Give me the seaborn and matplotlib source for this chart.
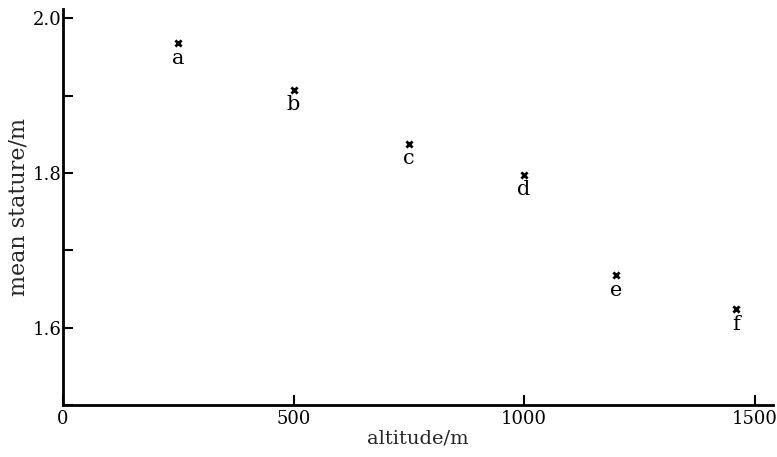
import matplotlib
matplotlib.use("Agg")
import matplotlib.pyplot as plt
import pandas as pd
import seaborn as sns
from matplotlib.ticker import MultipleLocator

# data
altitude = [250, 500, 750, 1000, 1200, 1460]
stature = [1.968, 1.908, 1.838, 1.798, 1.668, 1.624]
point_labels = ["a", "b", "c", "d", "e", "f"]

df = pd.DataFrame({"altitude": altitude, "stature": stature, "label": point_labels})

sns.set_theme(style="ticks", rc={"xtick.direction": "in", "ytick.direction": "in"})
plt.rcParams["font.family"] = ["DejaVu Serif"]

fig = plt.figure(figsize=(7.77, 4.57), dpi=100)
ax = fig.add_axes([0.081, 0.114, 0.914, 0.866])

sns.scatterplot(data=df, x="altitude", y="stature", marker="x", s=20,
                color="black", linewidth=2, ax=ax, legend=False)

for _, row in df.iterrows():
    ax.annotate(row["label"], (row["altitude"], row["stature"]),
                xytext=(0, -4), textcoords="offset points",
                ha="center", va="top", fontsize=15, color="black")

ax.set_xlim(0, 1540)
ax.set_ylim(1.5, 2.012)
ax.set_xticks([0, 500, 1000, 1500])
ax.set_yticks([1.6, 1.8, 2.0])
ax.yaxis.set_minor_locator(MultipleLocator(0.1))

for side in ["top", "right"]:
    ax.spines[side].set_visible(False)
for side in ["left", "bottom"]:
    ax.spines[side].set_linewidth(2)
    ax.spines[side].set_color("black")

ax.tick_params(axis="x", which="major", direction="in", length=7, width=1.5,
               labelsize=13, colors="black", pad=4, bottom=True)
ax.tick_params(axis="y", which="both", direction="in", length=7, width=1.5,
               labelsize=13, colors="black", pad=1)

ax.set_xlabel("altitude/m", fontsize=14, labelpad=1)
ax.set_ylabel("mean stature/m", fontsize=16, labelpad=2)

fig.savefig("out.png", dpi=100)
